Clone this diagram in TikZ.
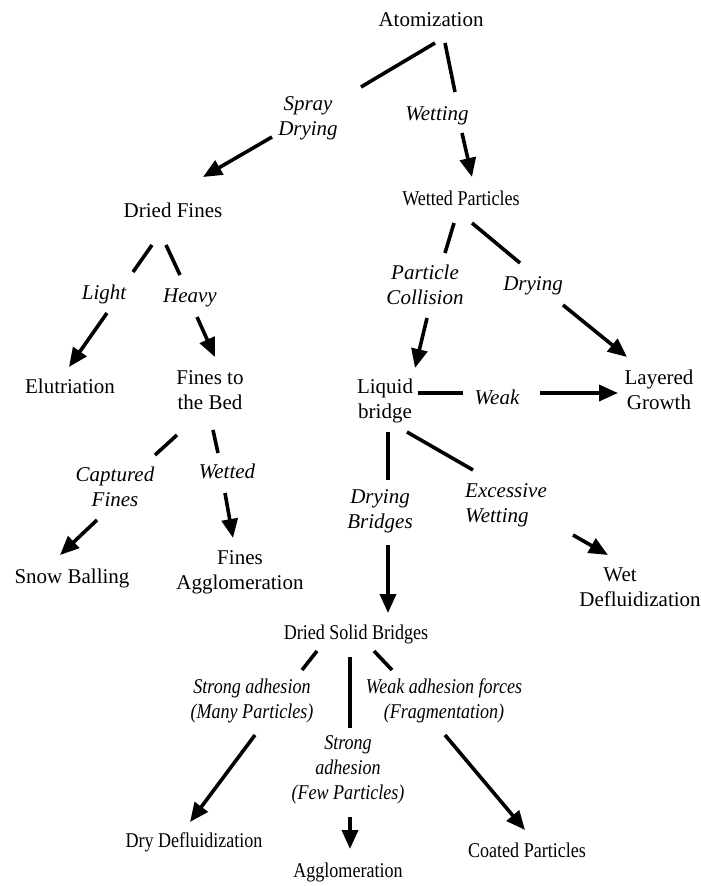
\documentclass[tikz,border=0pt]{standalone}
\usepackage{fontspec}
\setmainfont{Liberation Serif}
\newfontfamily\narrowrm{Liberation Serif}[FakeStretch=0.86]
\usetikzlibrary{arrows.meta}
\tikzset{
  txt/.style={font=\fontsize{21}{25}\selectfont, align=center, inner sep=0pt},
  ntxt/.style={font=\narrowrm\fontsize{21}{25}\selectfont, align=center, inner sep=0pt},
  lbl/.style={font=\itshape\fontsize{21}{25}\selectfont, align=center, inner sep=0pt},
  nlbl/.style={font=\narrowrm\itshape\fontsize{21}{25}\selectfont, align=center, inner sep=0pt},
  conn/.style={line width=3.6pt},
  arr/.style={line width=3.6pt, -{Triangle[length=19pt,width=16pt]}},
}
\begin{document}
\begin{tikzpicture}[x=1pt,y=-1pt]
\useasboundingbox (0,0) rectangle (701,886);
% main nodes
\node[txt]  (atom) at (431,20)  {Atomization};
\node[txt]  (df)   at (173,210) {Dried Fines};
\node[ntxt] (wp)   at (461,198) {Wetted Particles};
\node[txt]  (elu)  at (70,386)  {Elutriation};
\node[txt]  (fb)   at (210,390) {Fines to\\the Bed};
\node[txt]  (snow) at (72,578)  {Snow Balling};
\node[txt]  (fa)   at (240,572) {Fines\\Agglomeration};
\node[txt]  (lb)   at (385,401) {Liquid\\bridge};
\node[txt]  (lg)   at (659,390) {Layered\\Growth};
\node[txt]  (wd)   at (640,587) {Wet\hspace*{40pt}\\Defluidization};
\node[ntxt] (dsb)  at (356,634) {Dried Solid Bridges};
\node[ntxt] (dd)   at (194,842) {Dry Defluidization};
\node[ntxt] (agg)  at (348,872) {Agglomeration};
\node[ntxt] (cp)   at (527,850) {Coated Particles};
% labels
\node[lbl]  (spray) at (308,118) {Spray\\Drying};
\node[lbl]  (wet)   at (437,116) {Wetting};
\node[lbl]  (light) at (104,294) {Light};
\node[lbl]  (heavy) at (190,298) {Heavy};
\node[lbl]  (capt)  at (115,487) {Captured\\Fines};
\node[lbl]  (wtd)   at (227,471) {Wetted};
\node[lbl]  (pc)    at (425,285) {Particle\\Collision};
\node[lbl]  (dry)   at (533,286) {Drying};
\node[lbl]  (weak)  at (497,397) {Weak};
\node[lbl]  (db)    at (380,511) {Drying\\Bridges};
\node[lbl, align=left] (exc) at (506,505) {Excessive\\Wetting};
\node[nlbl] (many)  at (252,701) {Strong adhesion\\(Many Particles)};
\node[nlbl] (few)   at (348,770) {Strong\\adhesion\\(Few Particles)};
\node[nlbl] (wadh)  at (444,701) {Weak adhesion forces\\(Fragmentation)};
% connector ends
\coordinate (a1) at (435,43);  \coordinate (a2) at (361,87);
\coordinate (a3) at (272,137); \coordinate (a4) at (203,177);
\coordinate (b1) at (445,43);  \coordinate (b2) at (455,92);
\coordinate (b3) at (462,133); \coordinate (b4) at (472,177);
\coordinate (c1) at (152,245); \coordinate (c2) at (133,272);
\coordinate (c3) at (107,313); \coordinate (c4) at (69,367);
\coordinate (d1) at (166,245); \coordinate (d2) at (180,275);
\coordinate (d3) at (197,317); \coordinate (d4) at (215,357);
\coordinate (e1) at (177,435); \coordinate (e2) at (155,455);
\coordinate (e3) at (97,520);  \coordinate (e4) at (60,555);
\coordinate (f1) at (213,430); \coordinate (f2) at (218,453);
\coordinate (f3) at (225,493); \coordinate (f4) at (233,538);
\coordinate (g1) at (454,223); \coordinate (g2) at (445,253);
\coordinate (g3) at (427,318); \coordinate (g4) at (415,368);
\coordinate (h1) at (472,223); \coordinate (h2) at (520,263);
\coordinate (h3) at (563,305); \coordinate (h4) at (627,357);
\coordinate (i1) at (418,393); \coordinate (i2) at (463,393);
\coordinate (i3) at (540,393); \coordinate (i4) at (618,393);
\coordinate (j1) at (388,432); \coordinate (j2) at (388,480);
\coordinate (j3) at (388,545); \coordinate (j4) at (388,613);
\coordinate (k1) at (407,432); \coordinate (k2) at (473,470);
\coordinate (k3) at (573,535); \coordinate (k4) at (608,555);
\coordinate (l1) at (317,651); \coordinate (l2) at (302,670);
\coordinate (l3) at (255,735); \coordinate (l4) at (190,822);
\coordinate (m1) at (350,657); \coordinate (m2) at (350,728);
\coordinate (m3) at (350,817); \coordinate (m4) at (350,849);
\coordinate (n1) at (374,651); \coordinate (n2) at (392,670);
\coordinate (n3) at (445,735); \coordinate (n4) at (525,830);
% connectors
\draw[conn] (a1) -- (a2); \draw[arr] (a3) -- (a4);
\draw[conn] (b1) -- (b2); \draw[arr] (b3) -- (b4);
\draw[conn] (c1) -- (c2); \draw[arr] (c3) -- (c4);
\draw[conn] (d1) -- (d2); \draw[arr] (d3) -- (d4);
\draw[conn] (e1) -- (e2); \draw[arr] (e3) -- (e4);
\draw[conn] (f1) -- (f2); \draw[arr] (f3) -- (f4);
\draw[conn] (g1) -- (g2); \draw[arr] (g3) -- (g4);
\draw[conn] (h1) -- (h2); \draw[arr] (h3) -- (h4);
\draw[conn] (i1) -- (i2); \draw[arr] (i3) -- (i4);
\draw[conn] (j1) -- (j2); \draw[arr] (j3) -- (j4);
\draw[conn] (k1) -- (k2); \draw[arr] (k3) -- (k4);
\draw[conn] (l1) -- (l2); \draw[arr] (l3) -- (l4);
\draw[conn] (m1) -- (m2); \draw[arr] (m3) -- (m4);
\draw[conn] (n1) -- (n2); \draw[arr] (n3) -- (n4);
\end{tikzpicture}
\end{document}
